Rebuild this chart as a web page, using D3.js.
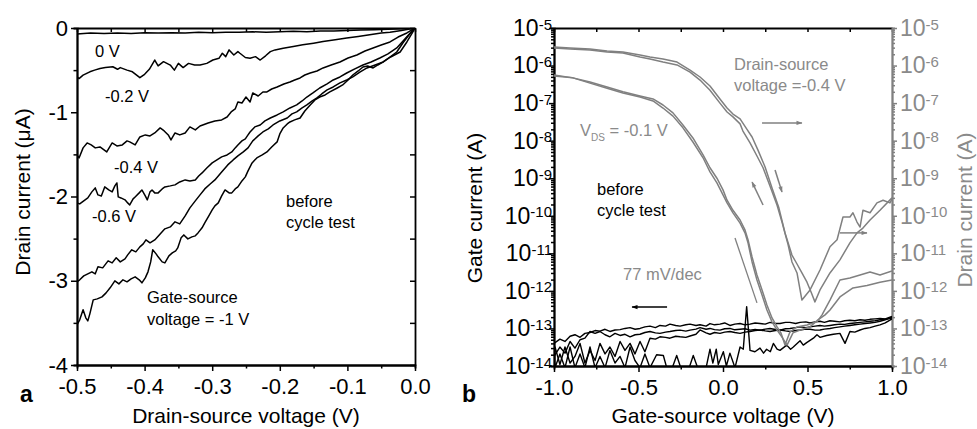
<!DOCTYPE html>
<html>
<head>
<meta charset="utf-8">
<script src="https://cdnjs.cloudflare.com/ajax/libs/d3/7.8.5/d3.min.js"></script>
<style>
    body { margin: 0; background: #fff; }
    text { font-family: "Liberation Sans", Arial, sans-serif; }
</style>
</head>
<body>
<script>
// ---------- panel a : drain current (uA) vs drain-source voltage (V) ----------
var vdsTicks = [-0.5, -0.4, -0.3, -0.2, -0.1, 0.0];
var idTicks = [0, -1, -2, -3, -4];

var curveVgs0 = [[-0.5,-0.07],[-0.48,-0.06],[-0.46,-0.065],[-0.44,-0.06],[-0.42,-0.065],[-0.40,-0.055],[-0.38,-0.06],[-0.36,-0.055],[-0.34,-0.06],[-0.32,-0.05],[-0.30,-0.055],[-0.28,-0.05],[-0.26,-0.05],[-0.24,-0.045],[-0.22,-0.05],[-0.20,-0.045],[-0.18,-0.04],[-0.16,-0.045],[-0.14,-0.035],[-0.12,-0.035],[-0.10,-0.03],[-0.08,-0.025],[-0.06,-0.02],[-0.04,-0.015],[-0.02,-0.01],[0,0]];

var curveVgs02 = [[-0.500,-0.58],[-0.497,-0.60],[-0.491,-0.56],[-0.481,-0.52],[-0.474,-0.50],[-0.466,-0.48],[-0.458,-0.47],[-0.447,-0.46],[-0.440,-0.49],[-0.436,-0.47],[-0.426,-0.50],[-0.418,-0.52],[-0.407,-0.59],[-0.400,-0.55],[-0.393,-0.49],[-0.385,-0.38],[-0.380,-0.45],[-0.372,-0.40],[-0.362,-0.44],[-0.356,-0.50],[-0.350,-0.42],[-0.343,-0.47],[-0.335,-0.42],[-0.326,-0.44],[-0.318,-0.44],[-0.308,-0.42],[-0.299,-0.38],[-0.290,-0.36],[-0.285,-0.30],[-0.280,-0.34],[-0.275,-0.26],[-0.268,-0.32],[-0.262,-0.28],[-0.259,-0.30],[-0.251,-0.35],[-0.244,-0.36],[-0.236,-0.34],[-0.229,-0.38],[-0.221,-0.33],[-0.214,-0.28],[-0.207,-0.26],[-0.195,-0.24],[-0.180,-0.22],[-0.166,-0.20],[-0.150,-0.18],[-0.136,-0.16],[-0.118,-0.14],[-0.101,-0.12],[-0.084,-0.10],[-0.067,-0.08],[-0.050,-0.06],[-0.037,-0.05],[-0.020,-0.03],[0,0]];

var curveVgs04 = [[-0.500,-1.507],[-0.497,-1.542],[-0.491,-1.423],[-0.485,-1.364],[-0.479,-1.388],[-0.473,-1.423],[-0.466,-1.412],[-0.460,-1.447],[-0.456,-1.471],[-0.448,-1.364],[-0.441,-1.400],[-0.433,-1.388],[-0.426,-1.340],[-0.422,-1.352],[-0.414,-1.388],[-0.407,-1.293],[-0.399,-1.269],[-0.392,-1.281],[-0.385,-1.246],[-0.377,-1.186],[-0.371,-1.222],[-0.365,-1.269],[-0.361,-1.329],[-0.355,-1.246],[-0.348,-1.269],[-0.340,-1.246],[-0.333,-1.174],[-0.325,-1.210],[-0.318,-1.163],[-0.306,-1.127],[-0.296,-1.103],[-0.286,-1.091],[-0.278,-1.056],[-0.272,-0.996],[-0.266,-0.961],[-0.262,-0.878],[-0.256,-0.890],[-0.250,-0.819],[-0.244,-0.878],[-0.240,-0.771],[-0.232,-0.807],[-0.225,-0.759],[-0.219,-0.759],[-0.212,-0.724],[-0.204,-0.700],[-0.194,-0.664],[-0.185,-0.641],[-0.178,-0.617],[-0.170,-0.593],[-0.163,-0.558],[-0.155,-0.534],[-0.145,-0.510],[-0.136,-0.474],[-0.124,-0.439],[-0.111,-0.403],[-0.099,-0.356],[-0.086,-0.320],[-0.074,-0.273],[-0.062,-0.237],[-0.050,-0.202],[-0.037,-0.166],[-0.025,-0.107],[-0.012,-0.059],[0,0]];

var curveVgs06 = [[-0.500,-2.076],[-0.496,-2.088],[-0.490,-2.052],[-0.484,-2.017],[-0.478,-1.945],[-0.473,-1.898],[-0.469,-1.981],[-0.464,-1.993],[-0.459,-1.886],[-0.453,-1.922],[-0.448,-1.945],[-0.444,-1.874],[-0.441,-1.839],[-0.439,-2.005],[-0.435,-2.017],[-0.429,-2.040],[-0.425,-2.076],[-0.422,-2.100],[-0.417,-2.028],[-0.414,-2.005],[-0.408,-1.957],[-0.404,-1.922],[-0.399,-1.993],[-0.396,-2.040],[-0.392,-1.945],[-0.389,-1.922],[-0.385,-1.957],[-0.380,-1.957],[-0.374,-1.910],[-0.370,-1.886],[-0.362,-1.874],[-0.355,-1.862],[-0.348,-1.827],[-0.340,-1.803],[-0.333,-1.815],[-0.325,-1.803],[-0.320,-1.756],[-0.315,-1.720],[-0.308,-1.661],[-0.300,-1.601],[-0.293,-1.566],[-0.286,-1.530],[-0.278,-1.507],[-0.271,-1.471],[-0.266,-1.423],[-0.262,-1.388],[-0.256,-1.340],[-0.251,-1.317],[-0.247,-1.269],[-0.244,-1.234],[-0.237,-1.174],[-0.229,-1.151],[-0.222,-1.103],[-0.214,-1.068],[-0.204,-1.032],[-0.195,-0.996],[-0.185,-0.949],[-0.175,-0.913],[-0.167,-0.866],[-0.160,-0.819],[-0.151,-0.771],[-0.141,-0.712],[-0.130,-0.664],[-0.121,-0.617],[-0.111,-0.581],[-0.101,-0.534],[-0.089,-0.486],[-0.077,-0.439],[-0.065,-0.403],[-0.052,-0.356],[-0.040,-0.308],[-0.027,-0.237],[-0.015,-0.130],[-0.007,-0.059],[0,0]];

var curveVgs08 = [[-0.500,-3.013],[-0.496,-2.989],[-0.490,-2.942],[-0.484,-2.918],[-0.478,-2.894],[-0.473,-2.918],[-0.469,-2.835],[-0.462,-2.847],[-0.454,-2.764],[-0.448,-2.788],[-0.442,-2.728],[-0.436,-2.776],[-0.429,-2.740],[-0.425,-2.693],[-0.419,-2.633],[-0.413,-2.657],[-0.407,-2.598],[-0.402,-2.562],[-0.398,-2.515],[-0.392,-2.550],[-0.385,-2.515],[-0.377,-2.444],[-0.370,-2.384],[-0.362,-2.361],[-0.355,-2.301],[-0.348,-2.325],[-0.340,-2.230],[-0.333,-2.135],[-0.325,-2.052],[-0.318,-1.981],[-0.311,-1.910],[-0.303,-1.851],[-0.296,-1.803],[-0.286,-1.708],[-0.277,-1.625],[-0.269,-1.566],[-0.262,-1.518],[-0.254,-1.471],[-0.247,-1.423],[-0.240,-1.340],[-0.232,-1.281],[-0.225,-1.234],[-0.217,-1.198],[-0.210,-1.151],[-0.200,-1.103],[-0.189,-1.068],[-0.182,-1.020],[-0.175,-0.996],[-0.167,-0.949],[-0.160,-0.913],[-0.152,-0.866],[-0.145,-0.830],[-0.138,-0.783],[-0.130,-0.735],[-0.121,-0.700],[-0.111,-0.652],[-0.101,-0.617],[-0.092,-0.581],[-0.081,-0.522],[-0.071,-0.474],[-0.059,-0.439],[-0.047,-0.403],[-0.036,-0.344],[-0.022,-0.285],[-0.012,-0.166],[-0.004,-0.059],[0,0]];

var curveVgs10 = [[-0.500,-3.523],[-0.496,-3.464],[-0.491,-3.345],[-0.487,-3.440],[-0.484,-3.476],[-0.481,-3.393],[-0.476,-3.227],[-0.470,-3.215],[-0.463,-3.191],[-0.457,-3.144],[-0.451,-3.084],[-0.444,-3.001],[-0.438,-3.037],[-0.432,-2.989],[-0.426,-3.013],[-0.420,-2.977],[-0.414,-2.954],[-0.408,-2.989],[-0.404,-3.025],[-0.399,-2.966],[-0.395,-2.894],[-0.391,-2.776],[-0.388,-2.633],[-0.383,-2.681],[-0.380,-2.716],[-0.374,-2.776],[-0.370,-2.788],[-0.364,-2.705],[-0.359,-2.669],[-0.354,-2.645],[-0.351,-2.610],[-0.346,-2.491],[-0.342,-2.456],[-0.336,-2.503],[-0.330,-2.479],[-0.325,-2.467],[-0.321,-2.432],[-0.315,-2.372],[-0.311,-2.313],[-0.305,-2.230],[-0.300,-2.159],[-0.296,-2.111],[-0.291,-2.076],[-0.286,-1.993],[-0.281,-1.922],[-0.275,-1.957],[-0.271,-1.957],[-0.266,-1.910],[-0.262,-1.886],[-0.256,-1.815],[-0.251,-1.767],[-0.247,-1.696],[-0.241,-1.601],[-0.237,-1.566],[-0.234,-1.542],[-0.226,-1.507],[-0.219,-1.471],[-0.212,-1.412],[-0.204,-1.352],[-0.200,-1.257],[-0.195,-1.186],[-0.189,-1.139],[-0.185,-1.115],[-0.178,-1.091],[-0.170,-1.068],[-0.163,-0.985],[-0.155,-0.913],[-0.148,-0.854],[-0.141,-0.819],[-0.133,-0.795],[-0.126,-0.759],[-0.115,-0.712],[-0.107,-0.676],[-0.099,-0.617],[-0.092,-0.558],[-0.084,-0.510],[-0.077,-0.463],[-0.070,-0.451],[-0.062,-0.474],[-0.055,-0.439],[-0.047,-0.403],[-0.037,-0.344],[-0.027,-0.285],[-0.018,-0.178],[-0.009,-0.083],[0,0]];

// ---------- panel b : gate / drain current (A) vs gate-source voltage (V) ----------
var vgTicks = [-1.0, -0.5, 0.0, 0.5, 1.0];

// drain current, Vds = -0.4 V (two sweeps)
var drainVds04a = [[-1.000,2.94e-6],[-0.905,2.76e-6],[-0.787,2.6e-6],[-0.686,2.3e-6],[-0.592,2.16e-6],[-0.491,1.69e-6],[-0.432,1.49e-6],[-0.355,1.24e-6],[-0.272,1.04e-6],[-0.195,6.7e-7],[-0.136,4.1e-7],[-0.077,2.2e-7],[-0.018,1.0e-7],[0.024,5.8e-8],[0.059,4.3e-8],[0.101,2.8e-8],[0.118,1.8e-8],[0.160,8.7e-9],[0.201,3.9e-9],[0.237,1.9e-9],[0.278,6.2e-10],[0.320,1.9e-10],[0.349,6.8e-11],[0.385,1.7e-11],[0.408,5.9e-12],[0.438,3.0e-12],[0.467,5.7e-13],[0.515,1.06e-12],[0.574,3.6e-12],[0.633,1.5e-11],[0.675,2.3e-11],[0.710,9.3e-11],[0.751,9.3e-11],[0.769,1.2e-10],[0.793,6.8e-11],[0.811,5.0e-11],[0.828,1.4e-10],[0.870,1.2e-10],[0.911,2.2e-10],[0.947,2.6e-10],[0.988,2.2e-10],[1.000,2.8e-10]];
var drainVds04b = [[-1.000,3.1e-6],[-0.905,2.94e-6],[-0.787,2.76e-6],[-0.686,2.45e-6],[-0.592,2.3e-6],[-0.491,1.9e-6],[-0.432,1.69e-6],[-0.355,1.5e-6],[-0.272,1.24e-6],[-0.195,7.6e-7],[-0.136,4.96e-7],[-0.077,2.86e-7],[-0.018,1.29e-7],[0.024,7.4e-8],[0.059,5.1e-8],[0.101,3.8e-8],[0.142,2.0e-8],[0.172,1.25e-8],[0.207,5.6e-9],[0.249,2.0e-9],[0.290,5.5e-10],[0.331,1.6e-10],[0.367,3.5e-11],[0.408,9.0e-12],[0.438,5.2e-12],[0.467,3.0e-12],[0.497,1.7e-12],[0.521,9.3e-13],[0.544,5.1e-13],[0.574,1.06e-12],[0.633,3.0e-12],[0.692,6.7e-12],[0.751,1.9e-11],[0.793,3.5e-11],[0.828,4.7e-11],[0.870,7.7e-11],[0.929,1.4e-10],[1.000,3.0e-10]];

// drain current, Vds = -0.1 V (two sweeps)
var drainVds01a = [[-1.000,5.3e-7],[-0.888,4.7e-7],[-0.787,3.65e-7],[-0.686,2.7e-7],[-0.592,2.0e-7],[-0.491,1.55e-7],[-0.414,1.29e-7],[-0.355,8.9e-8],[-0.296,5.5e-8],[-0.237,2.6e-8],[-0.178,1.18e-8],[-0.118,4.2e-9],[-0.077,1.9e-9],[-0.036,1.0e-9],[0.000,4.9e-10],[0.024,2.6e-10],[0.059,1.4e-10],[0.101,7.7e-11],[0.130,4.2e-11],[0.148,2.3e-11],[0.172,8.0e-12],[0.201,2.65e-12],[0.231,1.06e-12],[0.260,4.2e-13],[0.290,1.9e-13],[0.320,1.1e-13],[0.343,7.6e-14],[0.367,3.6e-14],[0.396,8.0e-14],[0.438,1.1e-13],[0.497,1.24e-13],[0.556,1.5e-13],[0.586,2.3e-13],[0.633,5.7e-13],[0.692,1.95e-12],[0.751,2.2e-12],[0.811,2.65e-12],[0.870,3.2e-12],[0.929,2.65e-12],[1.000,3.4e-12]];
var drainVds01b = [[-1.000,5.6e-7],[-0.888,4.7e-7],[-0.787,3.4e-7],[-0.686,2.5e-7],[-0.592,1.86e-7],[-0.491,1.46e-7],[-0.414,1.14e-7],[-0.355,7.4e-8],[-0.296,4.5e-8],[-0.237,2.2e-8],[-0.178,9.2e-9],[-0.118,3.5e-9],[-0.077,1.47e-9],[-0.036,7.5e-10],[0.000,3.6e-10],[0.024,2.2e-10],[0.059,1.2e-10],[0.101,6.4e-11],[0.130,3.5e-11],[0.148,1.9e-11],[0.172,5.9e-12],[0.201,1.95e-12],[0.231,7.8e-13],[0.260,3.1e-13],[0.290,1.5e-13],[0.320,9.1e-14],[0.349,5.9e-14],[0.379,3.6e-14],[0.414,7.6e-14],[0.456,9.1e-14],[0.515,1.1e-13],[0.562,1.7e-13],[0.604,2.3e-13],[0.633,3.1e-13],[0.692,6.9e-13],[0.769,1.2e-12],[0.852,1.4e-12],[0.929,1.7e-12],[1.000,1.95e-12]];

// gate current (four sweeps)
var gate1 = [[-1.0,4.0e-14],[-0.965,5.2e-14],[-0.935,4.5e-14],[-0.905,6.2e-14],[-0.876,6.8e-14],[-0.846,5.8e-14],[-0.817,7.4e-14],[-0.787,7.8e-14],[-0.757,8.8e-14],[-0.728,8.5e-14],[-0.698,9.5e-14],[-0.669,8.3e-14],[-0.639,9.1e-14],[-0.609,9.3e-14],[-0.58,1.0e-13],[-0.55,1.05e-13],[-0.52,9.5e-14],[-0.491,1.0e-13],[-0.462,1.1e-13],[-0.432,1.15e-13],[-0.40,1.05e-13],[-0.373,1.2e-13],[-0.34,1.15e-13],[-0.314,1.3e-13],[-0.28,1.2e-13],[-0.254,1.15e-13],[-0.22,1.25e-13],[-0.195,1.3e-13],[-0.16,1.2e-13],[-0.136,1.25e-13],[-0.10,1.15e-13],[-0.077,1.35e-13],[-0.05,1.25e-13],[-0.018,1.3e-13],[0.01,1.4e-13],[0.041,1.2e-13],[0.07,1.3e-13],[0.101,1.35e-13],[0.13,1.25e-13],[0.16,1.3e-13],[0.19,1.4e-13],[0.219,1.35e-13],[0.25,1.3e-13],[0.278,1.45e-13],[0.31,1.35e-13],[0.337,1.35e-13],[0.37,1.45e-13],[0.396,1.45e-13],[0.43,1.35e-13],[0.456,1.45e-13],[0.49,1.5e-13],[0.515,1.4e-13],[0.545,1.5e-13],[0.574,1.55e-13],[0.60,1.45e-13],[0.633,1.6e-13],[0.66,1.55e-13],[0.692,1.5e-13],[0.72,1.6e-13],[0.751,1.65e-13],[0.78,1.6e-13],[0.811,1.7e-13],[0.84,1.65e-13],[0.87,1.75e-13],[0.90,1.8e-13],[0.929,1.85e-13],[0.96,1.8e-13],[1.0,2.1e-13]];
var gate2 = [[-1.0,1.8e-14],[-0.965,3.2e-14],[-0.935,2.2e-14],[-0.905,4.5e-14],[-0.876,3.0e-14],[-0.846,5.0e-14],[-0.817,5.5e-14],[-0.787,8.3e-14],[-0.757,7.4e-14],[-0.728,8.3e-14],[-0.698,6.8e-14],[-0.669,6.0e-14],[-0.639,7.4e-14],[-0.609,6.5e-14],[-0.58,7.0e-14],[-0.55,6.0e-14],[-0.52,6.8e-14],[-0.491,7.0e-14],[-0.462,7.8e-14],[-0.432,8.3e-14],[-0.40,7.6e-14],[-0.373,7.4e-14],[-0.34,8.0e-14],[-0.314,8.3e-14],[-0.28,8.8e-14],[-0.254,9.0e-14],[-0.22,8.5e-14],[-0.195,9.0e-14],[-0.16,9.6e-14],[-0.136,1.05e-13],[-0.10,9.5e-14],[-0.077,1.0e-13],[-0.05,9.3e-14],[-0.018,9.0e-14],[0.01,9.8e-14],[0.041,1.0e-13],[0.07,9.2e-14],[0.101,9.5e-14],[0.13,9.8e-14],[0.16,9.0e-14],[0.19,9.4e-14],[0.219,9.0e-14],[0.25,9.6e-14],[0.278,1.0e-13],[0.31,9.4e-14],[0.337,9.0e-14],[0.37,9.8e-14],[0.396,1.0e-13],[0.43,1.05e-13],[0.456,1.1e-13],[0.49,1.05e-13],[0.515,1.1e-13],[0.545,1.15e-13],[0.574,1.2e-13],[0.60,1.15e-13],[0.633,1.2e-13],[0.66,1.25e-13],[0.692,1.3e-13],[0.72,1.28e-13],[0.751,1.35e-13],[0.78,1.4e-13],[0.811,1.45e-13],[0.84,1.5e-13],[0.87,1.55e-13],[0.90,1.6e-13],[0.929,1.7e-13],[0.96,1.75e-13],[1.0,1.9e-13]];
var gate3 = [[-1.0,9e-15],[-0.994,3.2e-14],[-0.965,1.1e-14],[-0.935,3.2e-14],[-0.905,1.2e-14],[-0.876,1.8e-14],[-0.846,4.0e-14],[-0.817,1.2e-14],[-0.787,2.6e-14],[-0.757,1.4e-14],[-0.728,4.0e-14],[-0.698,2.1e-14],[-0.669,3.2e-14],[-0.639,1.8e-14],[-0.609,4.5e-14],[-0.58,2.6e-14],[-0.55,4.0e-14],[-0.521,2.1e-14],[-0.491,4.5e-14],[-0.462,2.4e-14],[-0.432,5.5e-14],[-0.40,5.2e-14],[-0.373,6.0e-14],[-0.34,5.8e-14],[-0.314,5.5e-14],[-0.28,6.2e-14],[-0.254,6.0e-14],[-0.22,5.8e-14],[-0.195,6.3e-14],[-0.16,7.0e-14],[-0.136,9.1e-14],[-0.10,7.6e-14],[-0.077,7.0e-14],[-0.05,7.8e-14],[-0.018,7.4e-14],[0.01,8.0e-14],[0.041,8.3e-14],[0.07,7.8e-14],[0.101,7.4e-14],[0.13,8.0e-14],[0.16,8.3e-14],[0.19,8.8e-14],[0.219,9.1e-14],[0.25,8.6e-14],[0.278,8.3e-14],[0.31,8.8e-14],[0.337,9.1e-14],[0.37,8.6e-14],[0.396,8.3e-14],[0.43,8.8e-14],[0.456,9.1e-14],[0.49,9.6e-14],[0.515,9.5e-14],[0.545,9.0e-14],[0.574,9.1e-14],[0.60,9.6e-14],[0.633,1.0e-13],[0.66,1.05e-13],[0.692,1.1e-13],[0.72,1.15e-13],[0.751,1.2e-13],[0.78,1.25e-13],[0.811,1.3e-13],[0.84,1.35e-13],[0.87,1.4e-13],[0.90,1.45e-13],[0.929,1.55e-13],[0.96,1.7e-13],[1.0,2.0e-13]];
var gate4 = [[-1.0,4.0e-14],[-0.994,9e-15],[-0.965,2.1e-14],[-0.935,9e-15],[-0.905,3.2e-14],[-0.876,9e-15],[-0.846,2.1e-14],[-0.817,9e-15],[-0.787,3.2e-14],[-0.757,9e-15],[-0.728,1.8e-14],[-0.698,9e-15],[-0.669,2.6e-14],[-0.639,1.2e-14],[-0.609,1.8e-14],[-0.58,9e-15],[-0.55,3.2e-14],[-0.521,1.4e-14],[-0.491,9e-15],[-0.462,2.1e-14],[-0.432,9e-15],[-0.393,2.0e-14],[-0.353,1.9e-14],[-0.333,9e-15],[-0.30,9e-15],[-0.274,1.9e-14],[-0.25,9e-15],[-0.20,9e-15],[-0.176,1.9e-14],[-0.15,9e-15],[-0.10,9e-15],[-0.077,2.8e-14],[-0.06,1.2e-14],[-0.04,2.8e-14],[-0.028,1.1e-14],[0.002,2.4e-14],[0.02,1.0e-14],[0.041,2.2e-14],[0.071,9e-15],[0.101,3.2e-14],[0.120,2.8e-14],[0.140,3.8e-13],[0.160,2.6e-14],[0.189,2.4e-14],[0.219,3.0e-14],[0.24,2.2e-14],[0.258,2.8e-14],[0.28,2.4e-14],[0.298,4.0e-14],[0.32,2.8e-14],[0.337,2.6e-14],[0.377,3.6e-14],[0.40,2.8e-14],[0.416,3.2e-14],[0.456,4.7e-14],[0.475,3.6e-14],[0.495,4.2e-14],[0.535,5.5e-14],[0.556,6.8e-14],[0.574,5.8e-14],[0.613,6.5e-14],[0.653,7.0e-14],[0.692,7.4e-14],[0.722,4.0e-14],[0.751,8.3e-14],[0.78,8.0e-14],[0.811,9.1e-14],[0.84,1.0e-13],[0.870,1.05e-13],[0.90,1.15e-13],[0.929,1.25e-13],[0.96,1.4e-13],[1.0,1.8e-13]];

// ---------- drawing ----------
var width = 977,
    height = 429;

var black = "#000",
    grey = "#808080",
    greyText = "#8a8a8a";

var svg = d3.select("body")
    .append("svg")
    .attr("width", width)
    .attr("height", height);

// scales
var xA = d3.scaleLinear().domain([-0.5, 0]).range([77, 415]);
var yA = d3.scaleLinear().domain([-4, 0]).range([365, 28]);

var xB = d3.scaleLinear().domain([-1, 1]).range([554, 892]);
var yB = d3.scaleLog().domain([1e-14, 1e-5]).range([366, 28]);

var defs = svg.append("defs");
defs.append("clipPath").attr("id", "clipA")
    .append("rect").attr("x", 77).attr("y", 28).attr("width", 338).attr("height", 337);
defs.append("clipPath").attr("id", "clipB")
    .append("rect").attr("x", 554).attr("y", 28).attr("width", 338).attr("height", 338);

// arrow heads
function marker(id, color) {
    defs.append("marker")
        .attr("id", id)
        .attr("viewBox", "0 0 10 10")
        .attr("refX", 9)
        .attr("refY", 5)
        .attr("markerWidth", 9)
        .attr("markerHeight", 6)
        .attr("markerUnits", "userSpaceOnUse")
        .attr("orient", "auto")
        .append("path")
        .attr("d", "M0,1.5 L10,5 L0,8.5 Z")
        .attr("fill", color);
}
marker("headBlack", black);
marker("headGrey", grey);

function styleAxis(g, color, size) {
    g.attr("font-family", null);
    g.selectAll(".domain").attr("stroke", color).attr("stroke-width", 1.8);
    g.selectAll(".tick line").attr("stroke", color).attr("stroke-width", 1.5);
    g.selectAll(".tick text").attr("fill", color).style("font-size", size + "px");
}

function fmt1(d) {
    return d.toFixed(1);
}

// ================= panel a =================
var gA = svg.append("g");

// minor ticks first, then major axes over them
var vdsMinor = [-0.45, -0.35, -0.25, -0.15, -0.05];
var idMinor = [-0.5, -1.5, -2.5, -3.5];

gA.append("g")
    .attr("transform", "translate(0,365)")
    .call(d3.axisBottom(xA).tickValues(vdsMinor).tickSize(3.5).tickFormat(""))
    .call(styleAxis, black, 22);

gA.append("g")
    .attr("transform", "translate(77,0)")
    .call(d3.axisLeft(yA).tickValues(idMinor).tickSize(3.5).tickFormat(""))
    .call(styleAxis, black, 22);

gA.append("g")
    .attr("transform", "translate(0,28)")
    .call(d3.axisTop(xA).tickValues(vdsTicks.concat(vdsMinor)).tickSizeInner(-4).tickSizeOuter(0).tickFormat(""))
    .call(styleAxis, black, 22);

gA.append("g")
    .attr("transform", "translate(415,0)")
    .call(d3.axisRight(yA).tickValues(idTicks.concat(idMinor)).tickSizeInner(-5).tickSizeOuter(0).tickFormat(""))
    .call(styleAxis, black, 22);

gA.append("g")
    .attr("transform", "translate(0,365)")
    .call(d3.axisBottom(xA).tickValues(vdsTicks).tickSize(6).tickSizeOuter(0).tickPadding(7).tickFormat(fmt1))
    .call(styleAxis, black, 22);

gA.append("g")
    .attr("transform", "translate(77,0)")
    .call(d3.axisLeft(yA).tickValues(idTicks).tickSize(6).tickSizeOuter(0).tickPadding(3).tickFormat(function (d) {
        return String(d);
    }))
    .call(styleAxis, black, 22);

var lineA = d3.line()
    .x(function (d) { return xA(d[0]); })
    .y(function (d) { return yA(d[1]); });

var curvesA = [curveVgs0, curveVgs02, curveVgs04, curveVgs06, curveVgs08, curveVgs10];

gA.append("g")
    .attr("clip-path", "url(#clipA)")
    .selectAll("path")
    .data(curvesA)
    .enter().append("path")
    .attr("d", lineA)
    .attr("fill", "none")
    .attr("stroke", black)
    .attr("stroke-width", 1.5)
    .attr("stroke-linejoin", "round");

// axis titles
gA.append("text")
    .attr("x", 246)
    .attr("y", 423)
    .attr("text-anchor", "middle")
    .style("font-size", "21px")
    .text("Drain-source voltage (V)");

gA.append("text")
    .attr("transform", "translate(30,192) rotate(-90)")
    .attr("text-anchor", "middle")
    .style("font-size", "21px")
    .text("Drain current (\u03bcA)");

// annotations
function vgsLabelText(v) {
    return v.toFixed(1) + " V";
}
var annA = [
    { t: "0 V", x: 95, y: 57 },
    { t: vgsLabelText(-0.2), x: 105, y: 102 },
    { t: vgsLabelText(-0.4), x: 114, y: 173 },
    { t: vgsLabelText(-0.6), x: 92, y: 222 },
    { t: "before", x: 286, y: 207 },
    { t: "cycle test", x: 286, y: 228 },
    { t: "Gate-source", x: 147, y: 303 },
    { t: "voltage = -1 V", x: 147, y: 325 }
];

gA.selectAll(".ann")
    .data(annA)
    .enter().append("text")
    .attr("x", function (d) { return d.x; })
    .attr("y", function (d) { return d.y; })
    .style("font-size", "16.5px")
    .text(function (d) { return d.t; });

gA.append("text")
    .attr("x", 20)
    .attr("y", 402)
    .style("font-size", "23px")
    .style("font-weight", "bold")
    .text("a");

// ================= panel b =================
var gB = svg.append("g");

var decades = [1e-14, 1e-13, 1e-12, 1e-11, 1e-10, 1e-9, 1e-8, 1e-7, 1e-6, 1e-5];
var logMinor = [];
decades.slice(0, -1).forEach(function (p) {
    for (var k = 2; k < 10; k++) logMinor.push(k * p);
});
var vgMinor = [-0.75, -0.25, 0.25, 0.75];

function expLabels(g, color) {
    g.selectAll(".tick text").each(function (d) {
        d3.select(this).append("tspan")
            .attr("dy", "-0.42em")
            .style("font-size", "15px")
            .attr("fill", color)
            .text(Math.round(Math.log10(d)));
    });
}

gB.append("g")
    .attr("transform", "translate(0,366)")
    .call(d3.axisBottom(xB).tickValues(vgMinor).tickSize(3.5).tickFormat(""))
    .call(styleAxis, black, 22);

gB.append("g")
    .attr("transform", "translate(0,28)")
    .call(d3.axisTop(xB).tickValues(vgTicks.concat(vgMinor)).tickSizeInner(-4).tickSizeOuter(0).tickFormat(""))
    .call(styleAxis, black, 22);

gB.append("g")
    .attr("transform", "translate(554,0)")
    .call(d3.axisLeft(yB).tickValues(logMinor).tickSize(3).tickFormat(""))
    .call(styleAxis, black, 22);

gB.append("g")
    .attr("transform", "translate(892,0)")
    .call(d3.axisRight(yB).tickValues(logMinor).tickSize(3).tickFormat(""))
    .call(styleAxis, grey, 22);

gB.append("g")
    .attr("transform", "translate(0,366)")
    .call(d3.axisBottom(xB).tickValues(vgTicks).tickSize(6).tickSizeOuter(0).tickPadding(7).tickFormat(fmt1))
    .call(styleAxis, black, 22);

gB.append("g")
    .attr("transform", "translate(554,0)")
    .call(d3.axisLeft(yB).tickValues(decades).tickSize(5).tickSizeOuter(0).tickFormat(function () { return "10"; }))
    .call(styleAxis, black, 23)
    .call(function (g) {
        g.selectAll(".tick text").attr("x", -2);
    })
    .call(expLabels, black);

gB.append("g")
    .attr("transform", "translate(892,0)")
    .call(d3.axisRight(yB).tickValues(decades).tickSize(5).tickSizeOuter(0).tickPadding(3).tickFormat(function () { return "10"; }))
    .call(styleAxis, greyText, 23)
    .call(function (g) {
        g.selectAll(".domain, .tick line").attr("stroke", grey);
    })
    .call(expLabels, greyText);

var lineB = d3.line()
    .x(function (d) { return xB(d[0]); })
    .y(function (d) { return yB(d[1]); });

var plotB = gB.append("g").attr("clip-path", "url(#clipB)");

plotB.selectAll(".gate")
    .data([gate1, gate2, gate3, gate4])
    .enter().append("path")
    .attr("class", "gate")
    .attr("d", lineB)
    .attr("fill", "none")
    .attr("stroke", black)
    .attr("stroke-width", 1.4)
    .attr("stroke-linejoin", "round");

plotB.selectAll(".drain")
    .data([drainVds04a, drainVds04b, drainVds01a, drainVds01b])
    .enter().append("path")
    .attr("class", "drain")
    .attr("d", lineB)
    .attr("fill", "none")
    .attr("stroke", grey)
    .attr("stroke-width", 1.5)
    .attr("stroke-linejoin", "round");

// arrows and subthreshold slope guide, in data coordinates
var arrowsB = [
    { from: [-0.331, 3.7e-13], to: [-0.538, 3.7e-13], c: black, head: "headBlack" },
    { from: [0.231, 2.96e-8], to: [0.467, 2.96e-8], c: grey, head: "headGrey" },
    { from: [0.237, 1.94e-10], to: [0.172, 7.9e-10], c: grey, head: "headGrey" },
    { from: [0.308, 1.66e-9], to: [0.349, 4.3e-10], c: grey, head: "headGrey" },
    { from: [0.692, 3.5e-11], to: [0.852, 3.5e-11], c: grey, head: "headGrey" }
];

gB.selectAll(".arrow")
    .data(arrowsB)
    .enter().append("line")
    .attr("class", "arrow")
    .attr("x1", function (d) { return xB(d.from[0]); })
    .attr("y1", function (d) { return yB(d.from[1]); })
    .attr("x2", function (d) { return xB(d.to[0]); })
    .attr("y2", function (d) { return yB(d.to[1]); })
    .attr("stroke", function (d) { return d.c; })
    .attr("stroke-width", 1.5)
    .attr("marker-end", function (d) { return "url(#" + d.head + ")"; });

gB.append("line")
    .attr("x1", xB(0.071))
    .attr("y1", yB(2.56e-11))
    .attr("x2", xB(0.201))
    .attr("y2", yB(4.8e-13))
    .attr("stroke", grey)
    .attr("stroke-width", 1.3);

// axis titles
gB.append("text")
    .attr("x", 723)
    .attr("y", 423)
    .attr("text-anchor", "middle")
    .style("font-size", "21px")
    .text("Gate-source voltage (V)");

gB.append("text")
    .attr("transform", "translate(482,208) rotate(-90)")
    .attr("text-anchor", "middle")
    .style("font-size", "21px")
    .text("Gate current (A)");

gB.append("text")
    .attr("transform", "translate(972,210) rotate(-90)")
    .attr("text-anchor", "middle")
    .attr("fill", greyText)
    .style("font-size", "21px")
    .text("Drain current (A)");

// annotations
var annB = [
    { t: "Drain-source", x: 734, y: 70, c: greyText },
    { t: "voltage =-0.4 V", x: 734, y: 91, c: greyText },
    { t: "before", x: 597, y: 195, c: black },
    { t: "cycle test", x: 597, y: 216, c: black },
    { t: "77 mV/dec", x: 623, y: 280, c: greyText }
];

gB.selectAll(".ann")
    .data(annB)
    .enter().append("text")
    .attr("x", function (d) { return d.x; })
    .attr("y", function (d) { return d.y; })
    .attr("fill", function (d) { return d.c; })
    .style("font-size", "16.5px")
    .text(function (d) { return d.t; });

var vds = gB.append("text")
    .attr("x", 580)
    .attr("y", 136)
    .attr("fill", greyText)
    .style("font-size", "16.5px");
vds.append("tspan").text("V");
vds.append("tspan").attr("dy", 5).style("font-size", "10px").text("DS");
vds.append("tspan").attr("dy", -5).text(" = -0.1 V");

gB.append("text")
    .attr("x", 462)
    .attr("y", 402)
    .style("font-size", "23px")
    .style("font-weight", "bold")
    .text("b");
</script>
</body>
</html>
